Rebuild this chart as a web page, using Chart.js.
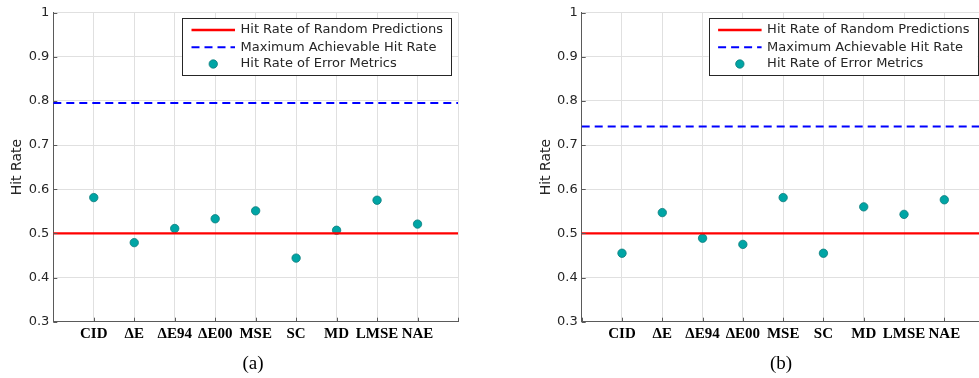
<!DOCTYPE html>
<html>
<head>
<meta charset="utf-8">
<script src="https://cdn.jsdelivr.net/npm/chart.js@4/dist/chart.umd.min.js"></script>
<style>
  html, body { margin: 0; padding: 0; background: #fff; }
  body { width: 979px; height: 378px; overflow: hidden; position: relative; }
  .panel { position: absolute; top: 0; height: 378px; }
  .caption { position: absolute; top: 352px; font-family: "Liberation Serif", "DejaVu Serif", serif; font-size: 19px; color: #000; transform: translateX(-50%); }
</style>
</head>
<body>
<div class="panel" style="left:0;width:490px"><canvas id="chartA"></canvas></div>
<div class="panel" style="left:490px;width:510px"><canvas id="chartB"></canvas></div>
<div class="caption" style="left:253px">(a)</div>
<div class="caption" style="left:781px">(b)</div>
<script>
// Error metrics compared on the x axis (positions 1..9)
const metrics = ['CID', 'ΔE', 'ΔE94', 'ΔE00', 'MSE', 'SC', 'MD', 'LMSE', 'NAE'];

// Hit rate of each error metric
const hitRatesA = [0.581, 0.479, 0.511, 0.533, 0.551, 0.444, 0.507, 0.575, 0.521];
const hitRatesB = [0.455, 0.547, 0.489, 0.475, 0.581, 0.455, 0.560, 0.543, 0.576];

// Reference levels
const randomRate = 0.5;
const maxRateA = 0.795;
const maxRateB = 0.742;

const yTicks = [0.3, 0.4, 0.5, 0.6, 0.7, 0.8, 0.9, 1];
const legendLabels = ['Hit Rate of Random Predictions', 'Maximum Achievable Hit Rate', 'Hit Rate of Error Metrics'];

const X_MIN = 0, X_MAX = metrics.length + 1;
const SANS = 'DejaVu Sans';
const AXIS_COLOR = '#5a5a5a';
const GRID_COLOR = '#e0e0e0';

// Small inward tick marks along the left and bottom axes
const innerTicks = {
  id: 'innerTicks',
  afterDraw(chart) {
    const {ctx, chartArea: a, scales: {x, y}} = chart;
    ctx.save();
    ctx.strokeStyle = AXIS_COLOR;
    ctx.lineWidth = 1;
    ctx.beginPath();
    for (const v of yTicks) {
      const py = Math.round(y.getPixelForValue(v)) + 0.5;
      ctx.moveTo(a.left, py); ctx.lineTo(a.left + 4, py);
    }
    for (let i = X_MIN; i <= X_MAX; i++) {
      const px = Math.round(x.getPixelForValue(i)) + 0.5;
      ctx.moveTo(px, a.bottom); ctx.lineTo(px, a.bottom - 4);
    }
    ctx.stroke();
    ctx.restore();
  }
};

// Boxed legend in the upper right corner of the plot
const boxLegend = {
  id: 'boxLegend',
  afterDraw(chart) {
    const {ctx, chartArea: a} = chart;
    const ds = chart.data.datasets;
    const w = 269, h = 57;
    const bx = a.right - 7 - w, by = a.top + 5.5;
    ctx.save();
    ctx.fillStyle = '#fff';
    ctx.fillRect(bx, by, w, h);
    ctx.strokeStyle = '#262626';
    ctx.lineWidth = 1;
    ctx.strokeRect(Math.round(bx) + 0.5, Math.round(by) + 0.5, w, h);
    ctx.font = '13px "' + SANS + '"';
    ctx.textBaseline = 'middle';
    ctx.textAlign = 'left';
    const rows = [by + 12, by + 29.3, by + 46];
    const lx0 = bx + 9.5, lx1 = bx + 53, tx = bx + 58.5;
    // solid line sample
    ctx.strokeStyle = ds[0].borderColor; ctx.lineWidth = ds[0].borderWidth;
    ctx.setLineDash([]);
    ctx.beginPath(); ctx.moveTo(lx0, rows[0]); ctx.lineTo(lx1, rows[0]); ctx.stroke();
    // dashed line sample
    ctx.strokeStyle = ds[1].borderColor; ctx.lineWidth = ds[1].borderWidth;
    ctx.setLineDash(ds[1].borderDash);
    ctx.beginPath(); ctx.moveTo(lx0, rows[1]); ctx.lineTo(lx1, rows[1]); ctx.stroke();
    ctx.setLineDash([]);
    // marker sample
    ctx.fillStyle = ds[2].backgroundColor; ctx.strokeStyle = ds[2].borderColor; ctx.lineWidth = ds[2].borderWidth;
    ctx.beginPath(); ctx.arc((lx0 + lx1) / 2, rows[2], ds[2].pointRadius, 0, Math.PI * 2); ctx.fill(); ctx.stroke();
    ctx.fillStyle = '#262626';
    legendLabels.forEach((t, i) => ctx.fillText(t, tx, rows[i]));
    ctx.restore();
  }
};

function makeChart(id, rates, maxRate, padLeft, padRight) {
  return new Chart(document.getElementById(id), {
    type: 'scatter',
    data: {
      datasets: [
        {
          type: 'line',
          data: [{x: X_MIN, y: randomRate}, {x: X_MAX, y: randomRate}],
          borderColor: '#ff0000', borderWidth: 2.4, pointRadius: 0, fill: false
        },
        {
          type: 'line',
          data: [{x: X_MIN, y: maxRate}, {x: X_MAX, y: maxRate}],
          borderColor: '#0000ff', borderWidth: 2, borderDash: [8, 5], pointRadius: 0, fill: false
        },
        {
          data: rates.map((v, i) => ({x: i + 1, y: v})),
          backgroundColor: '#00a5a5', borderColor: '#0b7b7b', borderWidth: 0.8,
          pointRadius: 4.2, pointHoverRadius: 4.2
        }
      ]
    },
    options: {
      responsive: true,
      maintainAspectRatio: false,
      animation: false,
      events: [],
      layout: { padding: { left: padLeft, right: padRight, top: 12.5, bottom: 0 } },
      plugins: { legend: { display: false }, tooltip: { enabled: false } },
      scales: {
        x: {
          type: 'linear', min: X_MIN, max: X_MAX,
          afterFit(s) { s.height = 56.3; },
          afterBuildTicks(s) {
            s.ticks = [];
            for (let i = X_MIN; i <= X_MAX; i++) s.ticks.push({value: i});
          },
          ticks: {
            autoSkip: false, maxRotation: 0, padding: 3,
            color: '#000',
            font: { family: 'Liberation Serif', size: 15, weight: 'bold' },
            callback: v => (v >= 1 && v <= metrics.length) ? metrics[v - 1] : ''
          },
          grid: { color: GRID_COLOR, lineWidth: 1, drawTicks: false },
          border: { display: true, color: AXIS_COLOR, width: 1 }
        },
        y: {
          min: 0.3, max: 1,
          afterFit(s) { s.width = 53.3; },
          afterBuildTicks(s) { s.ticks = yTicks.map(v => ({value: v})); },
          ticks: {
            padding: 4, color: '#262626',
            font: { family: SANS, size: 13 },
            callback: v => String(Math.round(v * 10) / 10)
          },
          grid: { color: GRID_COLOR, lineWidth: 1, drawTicks: false },
          border: { display: true, color: AXIS_COLOR, width: 1 },
          title: {
            display: true, text: 'Hit Rate', color: '#262626',
            font: { family: SANS, size: 14 },
            padding: { top: 9.1, bottom: 0 }
          }
        }
      }
    },
    plugins: [innerTicks, boxLegend]
  });
}

makeChart('chartA', hitRatesA, maxRateA, 0, 32);
makeChart('chartB', hitRatesB, maxRateB, 38.4, 15.4);
</script>
</body>
</html>
